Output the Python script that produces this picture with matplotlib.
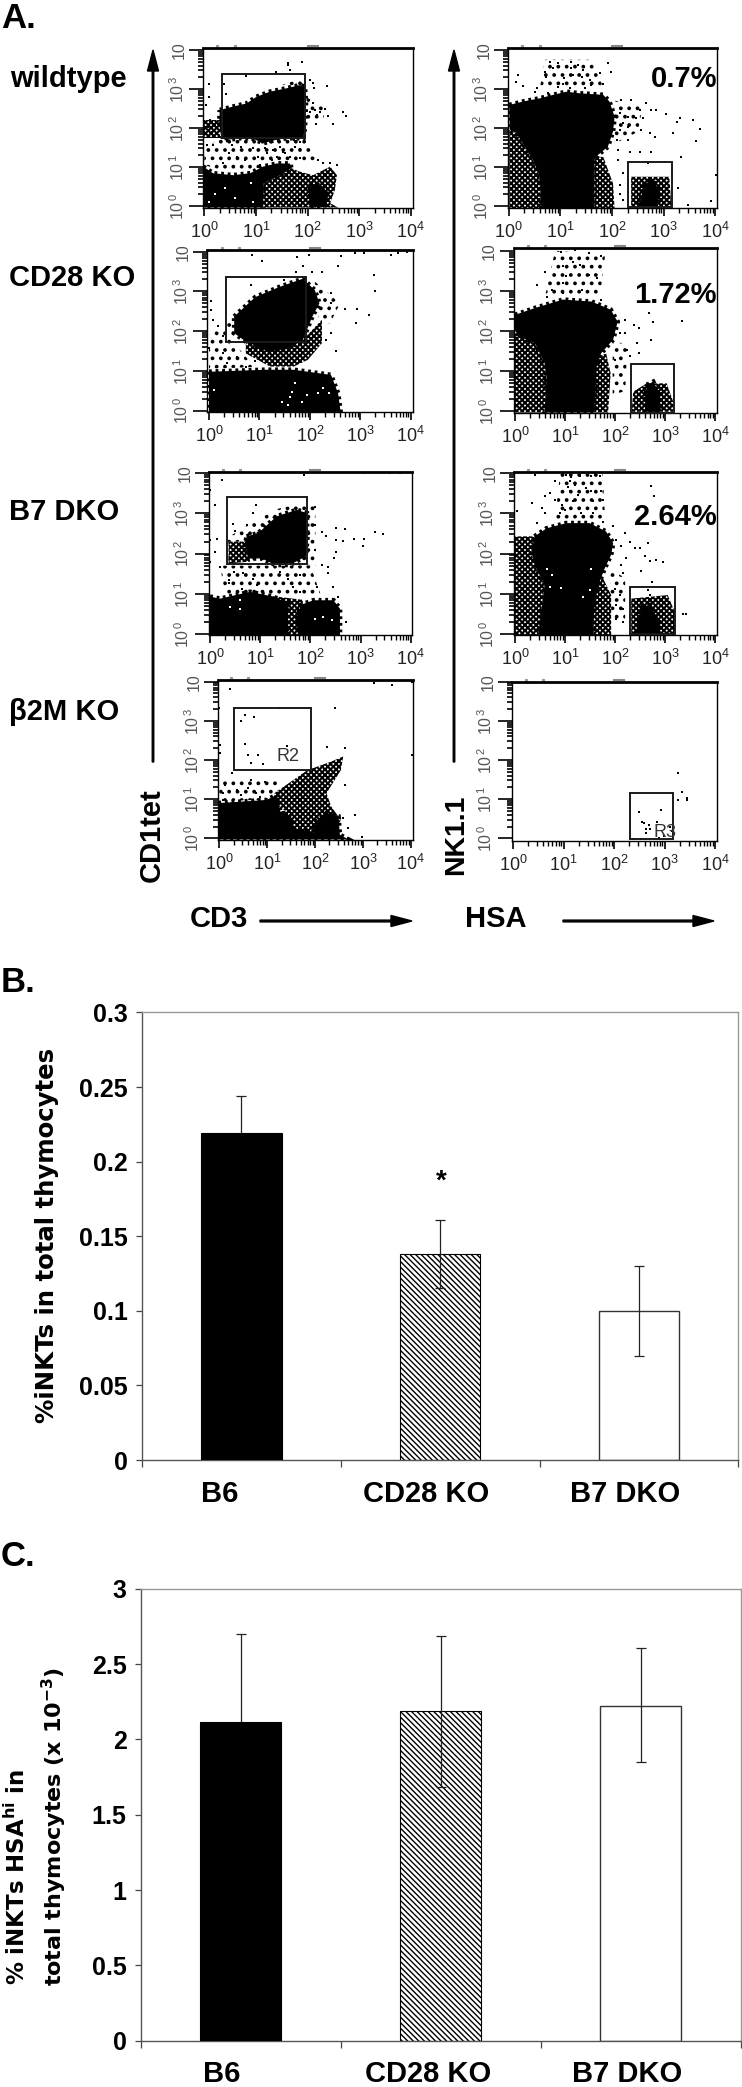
import matplotlib
matplotlib.use('Agg')
import matplotlib.pyplot as plt
import numpy as np
from matplotlib.patches import Polygon, Rectangle

plt.rcParams['font.family'] = ['Liberation Sans', 'DejaVu Sans']
plt.rcParams['mathtext.fontset'] = 'dejavusans'
plt.rcParams['hatch.linewidth'] = 1.5

W, H = 742, 2087

# ---- flow plots, all values in log10 decades ----
# wildtype CD3 / CD1tet
wt_l_solid = [
    [(.30,2.46),(.56,2.55),(.82,2.63),(1.01,2.80),(1.27,2.93),(1.60,3.02),(1.85,3.10),(1.95,3.06),(1.97,2.63),(1.95,2.03),(1.92,1.74),(1.60,1.74),(1.37,1.69),(1.14,1.61),(.92,1.74),(.69,1.74),(.40,1.69),(.32,1.82),(.29,2.12)],
    [(-.02,1.01),(.17,.84),(.56,.79),(.89,.84),(1.14,1.01),(1.40,1.09),(1.66,1.09),(1.69,.97),(1.47,.79),(1.14,.58),(1.14,-.04),(-.02,-.04)],
    [(2.05,.58),(2.31,.50),(2.40,.24),(2.31,-.02),(2.05,-.02)],
]
wt_l_speckle = [
    [(1.14,.58),(1.47,.79),(1.69,.97),(1.85,.88),(2.11,.79),(2.44,1.01),(2.57,.79),(2.53,.41),(2.44,.07),(2.6,-.04),(1.14,-.04)],
    [(0,2.2),(.3,2.2),(.3,1.75),(0,1.75)],
]
wt_l_sparse = [
    [(.3,1.7),(2.0,1.7),(2.2,1.1),(1.9,1.1),(1.3,1.1),(.9,.9),(.5,.85),(0,1.05),(0,1.5)],
    [(1.97,2.8),(2.35,2.5),(2.3,2.2),(1.97,2.2)],
    [(1.5,3.1),(1.95,3.3),(1.95,3.05)],
]
wt_l_dots = [(1.63,3.66),(1.63,3.61),(1.89,3.68),(1.67,3.50),(1.39,3.44),(.80,3.34),(2.05,3.23),(2.11,3.16),(2.37,3.08),(2.13,3.02),(.10,3.13),(.39,3.13),(.43,2.86),(.10,2.80),(.03,2.59),(2.11,2.63),(2.15,2.46),(2.24,2.42),(2.34,2.48),(2.18,2.33),(2.05,2.42),(2.40,2.31),(2.69,2.42),(2.75,2.31),(2.50,2.09),(2.16,2.09),(.01,2.12),(.11,2.21),(.21,2.08),(.08,2.03),(.14,1.91),(.05,1.56),(.17,1.56),
    (.53,1.56),(.72,1.52),(.95,1.48),(1.18,1.48),(1.34,1.44),(1.47,1.52),(1.53,1.39),(1.76,1.52),(1.85,1.45),(.47,1.35),(.63,1.26),(.79,1.18),(1.05,1.26),(1.21,1.35),(1.40,1.26),(1.66,1.26),(1.85,1.22),(2.11,1.22),(2.21,1.18),(2.31,1.09),(2.44,1.09),(2.57,1.05),(.37,1.09),(.56,1.01),(.89,1.01),(1.08,1.05),(1.31,1.18),(1.56,1.35),(1.85,1.65),(1.82,1.91),(1.73,1.69)]
wt_l_holes = [(.2,.3),(.4,.45),(.1,.1),(.9,.6),(.95,.1),(.6,.2)]
wt_l_gate = (.336,1.95,1.735,3.38)

# wildtype HSA / NK1.1
wt_r_solid = [
    [(.01,2.59),(.28,2.68),(.6,2.76),(.86,2.85),(1.12,2.93),(1.37,2.89),(1.83,2.85),(1.95,2.68),(2.05,2.29),(2.02,1.91),(1.92,1.52),(1.73,1.31),(1.66,1.18),(1.66,-.06),(.63,-.06),(.6,.75),(.47,1.18),(.31,1.52),(.15,1.87),(.02,1.96)],
    [(2.6,.54),(2.79,.67),(2.92,.37),(2.89,-.02),(2.54,-.02)],
]
wt_r_speckle = [
    [(.01,1.95),(.15,1.87),(.31,1.52),(.47,1.18),(.6,.75),(.63,-.06),(.01,-.06)],
    [(1.66,1.26),(1.83,1.26),(2.02,.58),(2.05,-.06),(1.66,-.06)],
    [(2.37,.75),(3.11,.75),(3.15,-.02),(2.37,-.02)],
]
wt_r_sparse = [
    [(.7,3.75),(1.6,3.75),(1.85,3.0),(.6,3.0)],
    [(2.05,2.7),(2.6,2.6),(2.5,1.9),(2.05,1.6)],
]
wt_r_dots = [(.79,3.7),(.95,3.66),(1.21,3.7),(1.34,3.62),(1.44,3.49),(.70,3.44),(.73,3.32),(.86,3.53),(1.08,3.27),(1.21,3.53),(1.25,3.36),(1.41,3.32),(1.57,3.23),(.18,3.36),(.15,3.19),(.28,3.08),(.54,3.02),(.50,2.93),(.76,2.89),(.95,3.06),(1.05,3.14),(1.18,3.02),(1.44,3.14),(1.47,3.02),(1.6,3.1),(1.83,3.14),(1.99,3.44),(1.92,3.66),(1.76,3.4),
    (2.18,2.72),(2.37,2.72),(2.66,2.63),(2.76,2.46),(2.86,2.46),(3.05,2.37),(2.54,2.46),(2.47,2.25),(2.6,2.25),(2.31,2.29),(2.15,2.38),(2.21,2.12),(2.31,2.03),(2.57,1.95),(2.73,1.87),(2.83,1.78),(2.31,1.69),(2.12,1.44),(2.34,1.39),(2.54,1.39),(2.76,1.39),(2.7,1.09),(3.34,1.26),(3.25,2.16),(3.31,2.25),(3.57,2.21),(3.7,1.97),(3.63,1.66),(3.18,1.88),(4.02,.79),(3.47,.03),(3.92,.14),(3.28,.45),(2.09,1.69),(2.15,1.95),(2.12,1.18),(2.21,.84),(2.15,.54),(2.15,.32),(2.21,.15)]
wt_r_gate = (2.31,3.16,-.02,1.14)

# CD28 KO CD3 / CD1tet
cd28_l_solid = [
    [(.5,2.37),(.92,2.86),(1.39,3.11),(1.86,3.32),(2.1,3.03),(2.19,2.70),(2.05,2.37),(1.86,1.78),(1.49,1.53),(1.11,1.53),(.73,1.74),(.5,1.95)],
    [(0,.98),(1.11,1.03),(1.68,1.03),(2.42,.9),(2.56,.44),(2.61,-.03),(0,-.05)],
]
cd28_l_speckle = [[(.73,1.70),(1.86,1.78),(2.24,2.29),(2.24,1.70),(1.96,1.28),(1.68,1.11),(1.21,1.11),(.73,1.44)]]
cd28_l_sparse = [
    [(0,1.9),(.5,2.3),(.5,1.7),(.9,1.1),(0,1.05)],
    [(2.05,3.3),(2.6,2.7),(2.4,2.2),(2.19,2.2)],
]
cd28_l_dots = [(.86,3.92),(1.06,3.76),(1.75,3.86),(1.98,3.92),(2.56,3.65),(2.61,3.88),(2.89,3.97),(3.08,3.97),(3.60,3.92),(3.74,3.97),(3.93,3.98),(3.27,3.42),(3.30,3.02),(1.86,3.63),(2.05,3.50),(2.24,3.50),(1.72,3.50),(1.48,3.29),(.83,3.17),(2.42,2.96),(2.7,2.57),(2.94,2.57),(3.17,2.41),(2.91,2.2),(2.42,2.71),(.03,2.75),(.03,2.54),(.08,2.29),(.17,2.13),(.27,1.87),(2.42,1.95),(2.33,1.78),(2.52,1.49),(0,1.57),(.27,1.44),(.55,1.36),(.92,1.24),(.73,1.11),(.36,1.2)]
cd28_l_holes = [(1.44,.22),(1.57,.14),(1.61,.35),(1.84,.22),(1.94,.39),(2.17,.44),(2.27,.56),(2.37,.44),(1.71,.69),(1.64,.48),(.09,.52)]
cd28_l_gate = (.33,1.93,1.74,3.36)

# CD28 KO HSA / NK1.1
cd28_r_solid = [
    [(0,2.4),(.4,2.57),(.96,2.78),(1.53,2.73),(1.91,2.53),(2.05,2.23),(1.96,1.78),(1.72,1.44),(1.63,1.11),(1.58,-.04),(.59,-.04),(.63,.86),(.59,1.19),(.4,1.69),(.1,1.85),(0,2.0)],
    [(2.63,.65),(2.76,.73),(2.89,.44),(2.89,-.02),(2.59,-.02)],
]
cd28_r_speckle = [
    [(0,1.94),(.4,1.69),(.59,1.19),(.63,.86),(.59,-.04),(0,-.04)],
    [(1.58,1.28),(1.82,1.44),(1.91,.94),(1.86,-.04),(1.58,-.04)],
    [(2.36,.48),(2.63,.69),(3.03,.69),(3.16,.23),(3.16,-.02),(2.33,-.02)],
]
cd28_r_sparse = [
    [(.8,4),(1.8,3.9),(1.7,2.85),(.6,2.85)],
    [(1.95,1.7),(2.25,1.7),(2.2,.5),(1.95,.4)],
]
cd28_r_dots = [(.92,3.98),(1.2,4.01),(1.48,3.94),(1.72,3.86),(1.15,3.73),(1.29,3.65),(.96,3.61),(1.48,3.4),(1.63,3.32),(.59,3.48),(1.01,3.36),(1.2,3.19),(.44,3.15),(.73,3.02),(.96,3.19),(1.34,3.02),(.63,2.85),(1.72,2.78),(.96,2.94),
    (2.19,2.28),(2.38,2.15),(2.67,2.44),(2.76,2.23),(3.33,2.25),(2.48,2.07),(2.19,1.94),(2.71,1.78),(2.43,1.69),(2.48,1.44),(2.1,1.94),(2.24,1.53),(2.0,1.28),(2.29,1.36)]
cd28_r_gate = (2.31,3.18,-.04,1.18)

# B7 DKO CD3 / CD1tet
b7_l_solid = [
    [(.73,2.43),(.96,2.51),(1.33,2.93),(1.73,3.09),(1.93,3.01),(1.94,2.38),(1.91,1.93),(1.59,1.72),(1.3,1.72),(1.03,1.88),(.76,1.88),(.7,2.22)],
    [(0,.93),(.2,.88),(.8,1.05),(1.26,.93),(1.56,.76),(1.53,-.03),(0,-.03)],
    [(1.75,.38),(1.8,.72),(2.06,.84),(2.46,.84),(2.59,.63),(2.59,-.03),(1.75,-.03)],
]
b7_l_speckle = [
    [(.37,2.3),(.73,2.3),(.8,1.8),(.37,1.76)],
    [(1.2,.95),(1.85,.85),(1.85,-.03),(1.2,-.03)],
]
b7_l_sparse = [
    [(.2,1.7),(2.0,1.7),(2.2,1.0),(1.5,.9),(.3,1.0)],
    [(.35,2.4),(.75,2.7),(1.3,3.1),(1.8,3.25),(2.1,3.2),(2.1,1.7),(.35,1.75)],
]
b7_l_dots = [(.23,3.84),(0,3.58),(.1,3.22),(.91,3.22),(.86,3.01),(1.88,3.95),(3.06,4.01),(3.58,4.01),(3.79,4.01),(2.09,3.16),(.45,2.74),(.73,2.72),(.5,2.57),(2.09,2.72),(2.23,2.55),(2.31,2.43),(2.51,2.63),(2.69,2.62),(2.51,2.34),(2.66,2.32),(2.86,2.36),(3.06,2.36),(3.04,2.2),(3.29,2.53),(3.44,2.48),(2.51,2.05),(2.48,1.9),(2.09,2.09),(2.23,1.72),(2.36,1.68),(2.36,1.51),(0,2.34),(.13,2.36),(.1,2.05),(0,1.8),(.2,1.68),(.47,1.55),(.66,1.51),(.86,1.38),(.37,1.34),(.63,1.13),(.93,1.22),(1.4,1.55),(1.56,1.38),(1.79,1.47),(1.66,1.18),(1.79,1.05),(2.13,1.18),(2.46,1.18),(2.56,.93),(2.72,.3),(.37,1.26)]
b7_l_holes = [(2.09,.38),(2.26,.43),(2.43,.34),(.4,.68),(.6,.63),(.6,.84)]
b7_l_gate = (.33,1.94,1.74,3.4)

# B7 DKO HSA / NK1.1
b7_r_solid = [
    [(.39,2.43),(.63,2.63),(1.02,2.76),(1.49,2.76),(1.82,2.55),(1.96,2.26),(1.92,1.97),(1.79,1.63),(1.69,1.3),(1.59,.8),(1.56,-.03),(.46,-.03),(.53,.63),(.59,1.22),(.39,1.72),(.33,2.05)],
    [(2.52,.68),(2.69,.72),(2.86,.38),(2.89,-.03),(2.42,-.03)],
]
b7_r_speckle = [
    [(0,2.43),(.39,2.43),(.33,2.05),(.39,1.72),(.59,1.22),(.53,.63),(.46,-.03),(0,-.03)],
    [(1.59,1.3),(1.76,1.38),(1.92,.97),(1.92,-.03),(1.56,-.03)],
    [(2.32,.88),(3.05,.97),(3.19,.55),(3.19,0),(2.32,0)],
]
b7_r_sparse = [
    [(.9,4),(1.75,4),(1.8,2.85),(.8,2.85)],
    [(1.9,1.6),(2.2,1.4),(2.2,.3),(1.9,.3)],
]
b7_r_dots = [(.39,3.97),(.79,3.8),(1.02,3.97),(1.09,3.8),(1.19,3.72),(1.29,3.93),(1.52,3.93),(1.69,3.93),(1.42,3.63),(1.26,3.47),(1.52,3.55),(1.72,3.55),(.59,3.43),(.69,3.51),(.79,3.34),(.33,3.26),(.93,3.22),(1.16,3.3),(1.36,3.34),(1.56,3.3),(1.76,3.34),(.53,3.13),(.59,3.01),(.89,3.01),(1.32,3.01),(1.56,3.01),(1.06,3.67),(1.12,3.92),(1.09,3.55),(.99,3.09),(.03,3.05),(.43,2.76),(1.76,2.8),(1.96,2.68),(2.72,3.69),(2.78,3.43),
    (2.02,2.34),(2.19,2.51),(2.29,2.3),(2.12,2.18),(2.39,2.15),(2.49,2.15),(2.66,2.26),(2.59,1.93),(2.69,1.82),(2.82,1.84),(2.96,1.78),(2.22,1.9),(2.12,1.72),(2.52,1.57),(2.16,1.51),(2.74,1.3),(1.99,1.13),(2.09,.97),(2.02,.72),(2.16,.63),(2.02,.38),(2.16,.3),(3.35,.51),(3.42,.51),(2.66,1.09),(2.69,.97)]
b7_r_holes = [(.63,1.63),(.73,1.47),(.91,1.15),(1.52,1.63),(1.36,.93),(1.5,1.09),(.69,1.18)]
b7_r_gate = (2.29,3.19,0,1.18)

# beta2M KO CD3 / CD1tet
b2m_l_solid = [
    [(-.02,.9),(.5,.94),(.99,.98),(1.2,1.11),(1.27,.69),(1.51,.52),(1.55,-.03),(-.02,-.03)],
    [(1.51,.26),(1.97,.14),(2.03,.43),(2.24,.64),(2.49,.56),(2.52,.09),(2.7,-.03),(1.55,-.03)],
]
b2m_l_speckle = [
    [(1.15,1.15),(1.84,1.74),(2.34,1.96),(2.59,2.09),(2.54,1.74),(2.24,1.15),(2.34,.81),(2.54,.47),(2.34,.04),(1.74,0),(1.45,.64),(1.15,.89)],
    [(1.2,.7),(1.7,.7),(1.7,-.03),(1.2,-.03)],
]
b2m_l_sparse = [[(0,1.5),(1.2,1.5),(1.3,1.0),(0,.95)]]
b2m_l_dots = [(.23,3.81),(0,3.32),(.54,3.15),(.73,3.11),(.46,3.0),(1.25,3.32),(2.42,3.32),(3.23,3.97),(3.6,3.91),(4.02,4.0),(.54,2.4),(.61,2.13),(.81,2.13),(.66,1.93),(.91,1.91),(1.42,2.36),(.02,2.38),(.02,2.17),(2.26,2.32),(2.63,2.3),(4.02,2.13),(.26,1.66),(.11,1.36),(.66,1.49),(.95,1.45),(.36,1.23),(.61,1.28),(.07,1.15),(.46,1.11),(.76,1.15),(2.63,1.36),(2.83,.6),(2.98,.04),(.07,.98),(.85,1.06),(2.68,.26),(2.58,.51)]
b2m_l_gate = (.31,1.92,1.74,3.34)

# beta2M KO HSA / NK1.1
b2m_r_dots = [(3.26,1.66),(3.35,1.18),(3.26,.99),(3.44,1.03),(3.44,.99),(2.5,.68),(2.93,.73),(2.55,.41),(2.59,.39),(2.84,.41),(2.68,.35),(2.62,.24),(2.71,.24),(2.63,.14),(3.11,.28),(3.14,.18),(2.38,-.03),(2.53,-.03),(2.98,.05),(3.17,.05),(2.88,0)]
b2m_r_gate = (2.31,3.17,-.02,1.16)

decades = [0, 1, 2, 3, 4]
minor_decades = [d + np.log10(m) for d in range(4) for m in range(2, 10)]
x_tick_labels = [r'$\mathregular{10^{%d}}$' % d for d in decades]
y_tick_labels = [r'$\mathregular{10^{\,%d}}$' % d for d in decades[:4]] + ['10']
top_marks = [.25, .6, 2.0, 2.1, 2.2]

# ---- bar charts ----
groups = ['B6', 'CD28 KO', 'B7 DKO']
inkt_mean = [0.2195, 0.138, 0.100]
inkt_upper = [0.2437, 0.161, 0.130]
inkt_lower = [0.195, 0.115, 0.0694]
hsa_mean = [2.117, 2.19, 2.22]
hsa_upper = [2.70, 2.688, 2.604]
hsa_lower = [1.53, 1.687, 1.848]
inkt_ticks = [0, 0.05, 0.1, 0.15, 0.2, 0.25, 0.3]
inkt_tick_labels = ['0', '0.05', '0.1', '0.15', '0.2', '0.25', '0.3']
hsa_ticks = [0, 0.5, 1, 1.5, 2, 2.5, 3]
hsa_tick_labels = ['0', '0.5', '1', '1.5', '2', '2.5', '3']

fig = plt.figure(figsize=(W / 100, H / 100), dpi=100, facecolor='white')


def axes_px(left, top, right, bottom):
    return fig.add_axes([left / W, 1 - bottom / H, (right - left) / W, (bottom - top) / H])


def flow_panel(frame, xt, yt, gate, solid=(), speckle=(), sparse=(), dots=(), holes=(), note=None):
    left, top, right, bottom = frame
    ax = axes_px(left, top, right, bottom)
    xs = (xt[1] - xt[0]) / 4
    ys = (yt[0] - yt[1]) / 4
    ax.set_xlim((left - xt[0]) / xs, (right - xt[0]) / xs)
    ax.set_ylim((yt[0] - bottom) / ys, (yt[0] - top) / ys)
    # comb-like dotted edge so the clouds end in single pixels, not a clean curve
    comb = dict(ls=(0, (0.6, 0.8)), lw=3.4)
    for poly in sparse:
        ax.add_patch(Polygon(poly, closed=True, facecolor='white', edgecolor='black', hatch='..', lw=0, zorder=0.5))
    for poly in speckle:
        ax.add_patch(Polygon(poly, closed=True, facecolor='white', edgecolor='black', hatch='xxxxxx', lw=0, zorder=1))
    for poly in solid:
        ax.add_patch(Polygon(poly, closed=True, facecolor='black', edgecolor='black', zorder=2, **comb))
    if len(dots):
        d = np.array(dots)
        ax.scatter(d[:, 0], d[:, 1], marker='s', s=3.0, color='black', lw=0, zorder=3, clip_on=False)
    if len(holes):
        h = np.array(holes)
        ax.scatter(h[:, 0], h[:, 1], marker='s', s=3.0, color='white', lw=0, zorder=4)
    ax.add_patch(Rectangle((gate[0], gate[2]), gate[1] - gate[0], gate[3] - gate[2], fill=False,
                           edgecolor='#1a1a1a', lw=1.4, zorder=5, clip_on=False))
    if note:
        ax.text(note[0], note[1], note[2], fontsize=13, color='#333333', ha='center', va='center', zorder=6)
    ax.set_xticks(decades, x_tick_labels)
    ax.set_yticks(decades, y_tick_labels, rotation=90, va='center')
    ax.set_xticks(minor_decades, minor=True)
    ax.set_yticks(minor_decades, minor=True)
    ax.tick_params(axis='x', which='major', length=6, width=1.2, pad=4, labelsize=13, labelcolor='#222222')
    ax.tick_params(axis='x', which='minor', length=3.5, width=1)
    ax.tick_params(axis='y', which='major', length=10, width=1.2, pad=2, labelsize=11.5, labelcolor='#555555')
    ax.tick_params(axis='y', which='minor', length=3.5, width=1.2)
    for s in ax.spines.values():
        s.set_linewidth(1.0)
    ax.spines['top'].set_linewidth(2.0)
    tr = ax.get_xaxis_transform()
    ax.plot(top_marks[:2], [1.012, 1.012], ls='none', marker='s', ms=1.3, color='#999999', transform=tr, clip_on=False)
    ax.plot(top_marks[2:], [1.012] * 3, color='#888888', lw=1.5, transform=tr, clip_on=False)
    return ax


flow_panel((203.3, 47.7, 413.3, 207.7), (204.3, 410.7), (206, 50), wt_l_gate, wt_l_solid, wt_l_speckle, wt_l_sparse, wt_l_dots, wt_l_holes)
flow_panel((508, 47.7, 717.3, 208), (508.7, 715.3), (206, 50), wt_r_gate, wt_r_solid, wt_r_speckle, wt_r_sparse, wt_r_dots)
flow_panel((207.3, 250, 412.7, 412.3), (209, 410.7), (410.7, 251.7), cd28_l_gate, cd28_l_solid, cd28_l_speckle, cd28_l_sparse, cd28_l_dots, cd28_l_holes)
flow_panel((513.5, 248.3, 717.3, 412.7), (515, 715.3), (411, 250.7), cd28_r_gate, cd28_r_solid, cd28_r_speckle, cd28_r_sparse, cd28_r_dots)
flow_panel((209, 471.7, 412.3, 635.3), (210, 410.7), (634, 473.3), b7_l_gate, b7_l_solid, b7_l_speckle, b7_l_sparse, b7_l_dots, b7_l_holes)
flow_panel((514, 472, 717.3, 635.3), (515, 715.3), (634, 473.3), b7_r_gate, b7_r_solid, b7_r_speckle, b7_r_sparse, b7_r_dots, b7_r_holes)
flow_panel((218.3, 680, 412.7, 840.3), (219.3, 410.7), (838.3, 681.7), b2m_l_gate, b2m_l_solid, b2m_l_speckle, b2m_l_sparse, b2m_l_dots, note=(1.43, 2.1, 'R2'))
flow_panel((512, 681.7, 717.3, 840.7), (513, 715.3), (838.3, 681.7), b2m_r_gate, dots=b2m_r_dots, note=(3.01, .14, 'R3'))


def bar_panel(frame, means, lower, upper, ticks, labels, ymax):
    ax = axes_px(*frame)
    x = np.array([0.5, 1.5, 2.5])
    plt.rcParams['hatch.linewidth'] = 1.0
    ax.bar(x[0], means[0], width=0.405, color='black', edgecolor='black', lw=0.8, zorder=4)
    ax.bar(x[1], means[1], width=0.405, color='white', edgecolor='black', hatch='\\\\\\\\\\\\', lw=0.8, zorder=2)
    ax.bar(x[2], means[2], width=0.405, color='white', edgecolor='#333333', lw=1.0, zorder=2)
    yerr = [np.array(means) - np.array(lower), np.array(upper) - np.array(means)]
    ax.errorbar(x, means, yerr=yerr, fmt='none', ecolor='#222222', elinewidth=0.9, capsize=3.5, capthick=0.9, zorder=3)
    ax.set_xlim(0, 3)
    ax.set_ylim(0, ymax)
    ax.set_xticks([0, 1, 2, 3], [])
    ax.set_yticks(ticks, labels, fontweight='bold', fontsize=18)
    ax.tick_params(axis='x', length=5, width=0.9, color='#444444')
    ax.tick_params(axis='y', length=4, width=0.9, color='#444444', pad=6)
    for side in ['top', 'right']:
        ax.spines[side].set_color('#999999')
        ax.spines[side].set_linewidth(1.0)
    for side in ['left', 'bottom']:
        ax.spines[side].set_color('#555555')
        ax.spines[side].set_linewidth(1.0)
    return ax


bar_panel((142, 1012.5, 738.3, 1460), inkt_mean, inkt_lower, inkt_upper, inkt_ticks, inkt_tick_labels, 0.3)
bar_panel((140.6, 1588.7, 740.6, 2040.8), hsa_mean, hsa_lower, hsa_upper, hsa_ticks, hsa_tick_labels, 3)

# ---- labels and arrows drawn over everything, in picture pixels ----
ov = fig.add_axes([0, 0, 1, 1], zorder=10)
ov.set_xlim(0, W)
ov.set_ylim(H, 0)
ov.axis('off')
ov.patch.set_alpha(0)

bold = dict(fontweight='bold', color='black', va='center')
ov.text(1, 19, 'A.', fontsize=25, **bold)
ov.text(1, 983, 'B.', fontsize=25, **bold)
ov.text(1, 1557, 'C.', fontsize=25, **bold)
ov.text(10, 79, 'wildtype', fontsize=21, **bold)
ov.text(9, 278, 'CD28 KO', fontsize=21, **bold)
ov.text(9, 512, 'B7 DKO', fontsize=21, **bold)
ov.text(9, 712, 'β2M KO', fontsize=21, **bold)
ov.text(717, 79, '0.7%', fontsize=21, ha='right', **bold)
ov.text(717, 295, '1.72%', fontsize=21, ha='right', **bold)
ov.text(717, 517, '2.64%', fontsize=21, ha='right', **bold)
ov.text(152, 835, 'CD1tet', fontsize=21, rotation=90, ha='center', fontweight='bold', va='center')
ov.text(456, 835, 'NK1.1', fontsize=20.5, rotation=90, ha='center', fontweight='bold', va='center')
ov.text(219, 919, 'CD3', fontsize=21, ha='center', **bold)
ov.text(496, 919, 'HSA', fontsize=21, ha='center', **bold)
ov.arrow(153, 762, 0, -712, width=1.5, head_width=11, head_length=21, length_includes_head=True, color='black')
ov.arrow(454, 762, 0, -712, width=1.5, head_width=11, head_length=21, length_includes_head=True, color='black')
ov.arrow(260, 921, 152, 0, width=1.8, head_width=11, head_length=21, length_includes_head=True, color='black')
ov.arrow(563, 921, 151, 0, width=1.8, head_width=11, head_length=21, length_includes_head=True, color='black')

ov.text(47, 1235, '%iNKTs in total thymocytes', fontsize=17.6, rotation=90, ha='center', va='center',
        fontweight='bold', family='DejaVu Sans')
ov.text(17, 1985, r'% iNKTs HSA$^{\mathbf{hi}}$ in', fontsize=16.5, rotation=90, ha='center', va='bottom',
        fontweight='bold', family='DejaVu Sans')
ov.text(54, 1986, r'total thymocytes (x 10$^{\mathbf{-3}}$)', fontsize=16, rotation=90, ha='center', va='bottom',
        fontweight='bold', family='DejaVu Sans')
ov.text(441, 1182, '*', fontsize=20, ha='center', va='center', fontweight='bold')

for name, xp in zip(groups, [220, 426, 625]):
    ov.text(xp, 1494, name, fontsize=21, ha='center', **bold)
for name, xp in zip(groups, [221.5, 428, 627]):
    ov.text(xp, 2074, name, fontsize=21, ha='center', **bold)

fig.savefig('out.png', dpi=100)
